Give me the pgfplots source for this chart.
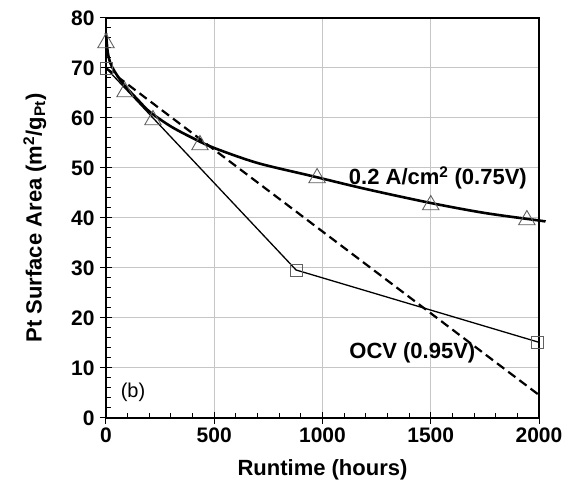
\documentclass[border=0pt]{standalone}
\usepackage{fontspec}
\setmainfont{Liberation Sans}
\usepackage{pgfplots}
\pgfplotsset{compat=1.18}
\begin{document}
\begin{tikzpicture}
\path[use as bounding box] (-106pt,-63pt) rectangle (461pt,418pt);
\begin{axis}[
  at={(0pt,0pt)}, anchor=south west,
  scale only axis, width=433pt, height=400pt,
  xmin=0, xmax=2000, ymin=0, ymax=80,
  xtick={0,500,...,2000}, ytick={0,10,...,80},
  minor x tick num=4, minor y tick num=4,
  tick pos=left,
  tick align=inside, major tick length=6pt, minor tick length=5pt,
  extra x ticks={0,500,1000,1500,2000}, extra x tick labels={},
  extra y ticks={0,10,20,30,40,50,60,70,80}, extra y tick labels={},
  extra tick style={tick align=outside, major tick length=6pt, grid=none},
  xmajorgrids, ymajorgrids,
  major grid style={gray!45, line width=1pt},
  axis line style={line width=1.3pt},
  tick style={black, line width=1pt},
  /pgf/number format/assume math mode=true,
  /pgf/number format/1000 sep={},
  ticklabel style={font=\fontsize{21}{24}\selectfont\bfseries},
  yticklabel style={xshift=-8pt},
  xticklabel style={yshift=-6pt},
  label style={font=\fontsize{22}{26}\selectfont\bfseries},
  xlabel={Runtime (hours)},
  ylabel={Pt Surface Area (m\textsuperscript{2}/g\textsubscript{Pt})},
  xlabel style={yshift=-4pt},
  ylabel style={yshift=12pt},
  clip=false,
]
% markers
\addplot[only marks, mark=triangle, mark size=9.5pt, mark options={draw=gray!75!black, line width=0.9pt, fill=none}]
  coordinates {(0,75) (88,65.2) (217,59.6) (434,54.6) (975,48) (1500,42.6) (1944,39.6)};
\addplot[only marks, mark=square, mark size=6pt, mark options={draw=gray!75!black, line width=0.9pt, fill=none}]
  coordinates {(0,70) (878,29.6) (1995,15.2)};
% thin OCV line
\addplot[black, line width=1.3pt] coordinates {(0,70) (878,29.6) (1995,15.2)};
% dashed line
\addplot[black, line width=2.2pt, dash pattern=on 9pt off 5pt] coordinates {(0,70) (2000,4.6)};
% thick fitted curve
\addplot[black, line width=2.6pt, smooth] coordinates {
  (0,77) (8,73.2) (20,71) (40,69.3) (80,66.8) (150,63.5) (203,61.2)
  (300,58.3) (400,56) (500,54) (700,51) (950,48.4) (1200,45.8)
  (1500,43) (1750,41) (2000,39.5) (2030,39.3)};
\node[font=\fontsize{22}{26}\selectfont\bfseries] at (axis cs:1533,48) {0.2 A/cm\textsuperscript{2} (0.75V)};
\node[font=\fontsize{22}{26}\selectfont\bfseries] at (axis cs:1415,13) {OCV (0.95V)};
\node[font=\fontsize{20}{24}\selectfont] at (axis cs:125,5.2) {(b)};
\end{axis}
\end{tikzpicture}
\end{document}
